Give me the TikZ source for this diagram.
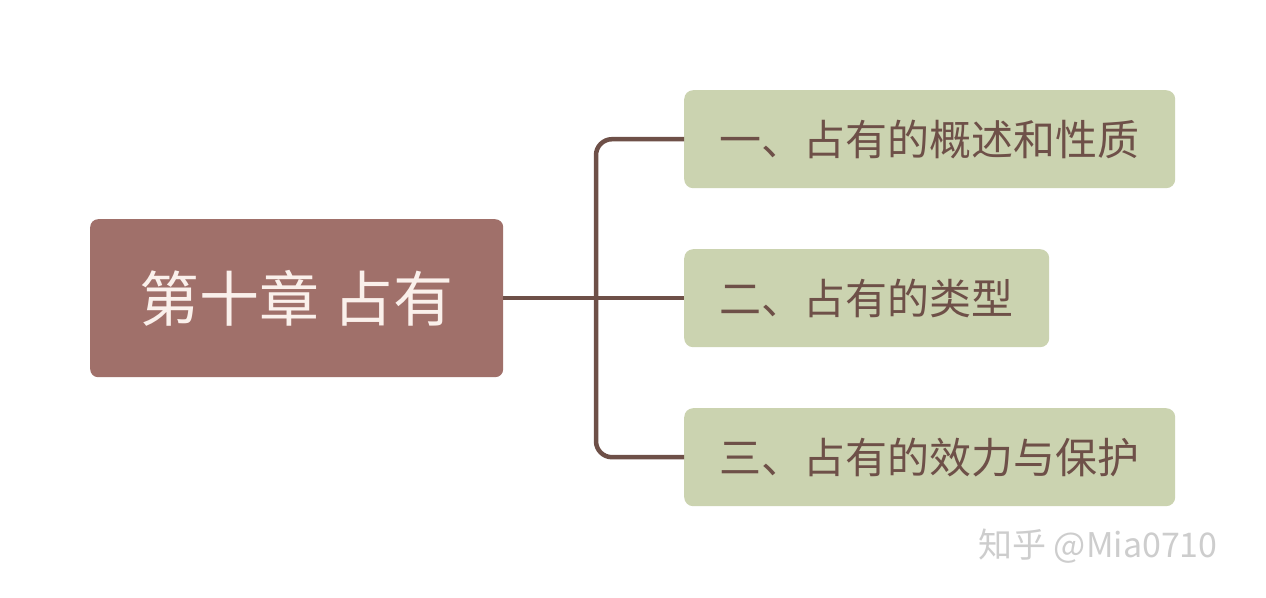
\documentclass[tikz,border=0pt]{standalone}
\usepackage{fontspec}
\setmainfont{Noto Sans CJK SC}
\begin{document}
\begin{tikzpicture}[x=1pt,y=-1pt,
  root/.style={fill={rgb,255:red,160;green,112;blue,106},rounded corners=8pt,text={rgb,255:red,250;green,240;blue,235},font=\fontsize{60}{66}\selectfont,inner sep=0pt,anchor=north west},
  child/.style={fill={rgb,255:red,203;green,211;blue,176},rounded corners=9pt,text={rgb,255:red,110;green,80;blue,72},font=\fontsize{42}{48}\selectfont,inner sep=0pt,anchor=north west},
  link/.style={draw={rgb,255:red,110;green,80;blue,72},line width=4.5pt,rounded corners=16pt}]
\useasboundingbox (0,0) rectangle (1266,597);
\node[root,minimum width=413pt,minimum height=158pt] (r) at (90,219) {第十章 占有};
\node[child,minimum width=491pt,minimum height=98pt] (a) at (684,90) {一、占有的概述和性质};
\node[child,minimum width=365pt,minimum height=98pt] (b) at (684,249) {二、占有的类型};
\node[child,minimum width=491pt,minimum height=98pt] (c) at (684,408) {三、占有的效力与保护};
\coordinate (t) at (596,298);
\draw[link] (r.east) -- (b.west);
\draw[link] (a.west) -- (t|-a.west) -- (t|-c.west) -- (c.west);
\node[text={rgb,255:red,205;green,205;blue,205},font=\fontsize{34}{38}\selectfont] (w) at (1098,546) {知乎 @Mia0710};
\end{tikzpicture}
\end{document}
